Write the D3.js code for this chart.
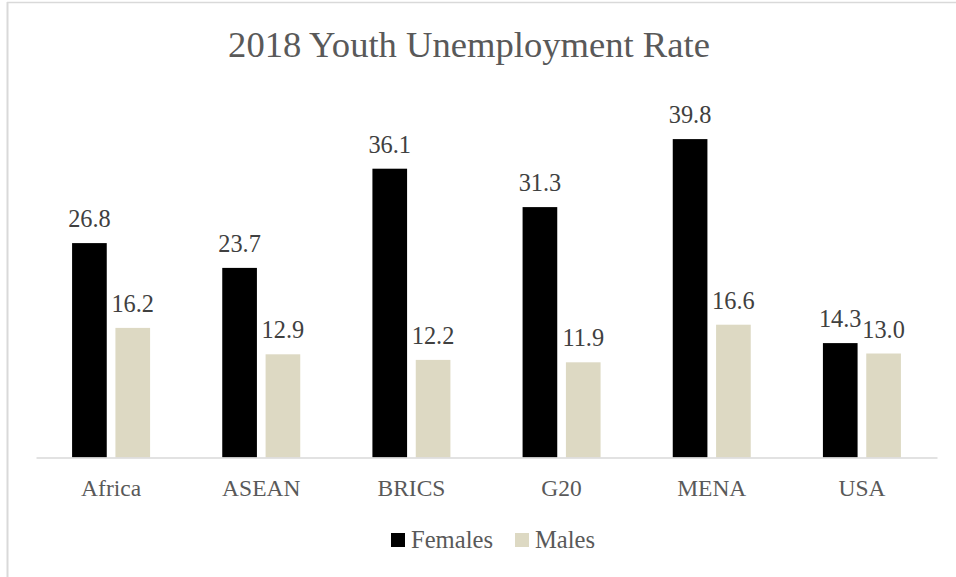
<!DOCTYPE html>
<html><head><meta charset="utf-8">
<script src="https://cdn.jsdelivr.net/npm/d3@7"></script>
<style>html,body{margin:0;padding:0;background:#fff;}</style>
</head><body>
<script>
const categories = ["Africa","ASEAN","BRICS","G20","MENA","USA"];
const females = [26.8,23.7,36.1,31.3,39.8,14.3];
const males = [16.2,12.9,12.2,11.9,16.6,13.0];
const seriesNames = ["Females","Males"];
const seriesColors = ["#000000","#DDD9C3"];
const titleText = "2018 Youth Unemployment Rate";

const W=956,H=577;
const font="Liberation Serif";
const svg=d3.select("body").append("svg").attr("width",W).attr("height",H);
svg.append("rect").attr("width",W).attr("height",H).attr("fill","#fff");
svg.append("line").attr("x1",7).attr("x2",W).attr("y1",2.5).attr("y2",2.5).attr("stroke","#D9D9D9").attr("stroke-width",1.5);
svg.append("line").attr("x1",7.5).attr("x2",7.5).attr("y1",2).attr("y2",H).attr("stroke","#D9D9D9").attr("stroke-width",2);

function fitSize(str,target){
  const t=svg.append("text").attr("font-family",font).attr("font-size",100).text(str);
  const w=t.node().getComputedTextLength(); t.remove();
  return 100*target/w;
}
const titleSize=fitSize(titleText,482);
const valSize=fitSize("26.8",42.6);
const catSize=fitSize("Africa",60);
const legSize=fitSize("Females",82);

const x=d3.scaleBand().domain(categories).range([36,937]);
const y=d3.scaleLinear().domain([0,45]).range([457.5,97.5]);
const inner=d3.scaleBand().domain(seriesNames).range([x.bandwidth()/2-39,x.bandwidth()/2+39]).paddingInner(0.2);

svg.append("text").attr("x",469).attr("y",57).attr("text-anchor","middle")
 .attr("font-family",font).attr("font-size",titleSize).attr("fill","#595959").text(titleText);

const data=categories.map((c,i)=>({c,vals:[females[i],males[i]]}));
const g=svg.selectAll("g.grp").data(data).enter().append("g").attr("transform",d=>`translate(${x(d.c)},0)`);
g.selectAll("rect").data(d=>d.vals.map((v,j)=>({v,s:seriesNames[j],col:seriesColors[j]}))).enter().append("rect")
 .attr("x",d=>inner(d.s)).attr("width",inner.bandwidth())
 .attr("y",d=>y(d.v)).attr("height",d=>y(0)-y(d.v)).attr("fill",d=>d.col);
g.selectAll("text").data(d=>d.vals.map((v,j)=>({v,s:seriesNames[j]}))).enter().append("text")
 .attr("x",d=>inner(d.s)+inner.bandwidth()/2).attr("y",d=>y(d.v)-16).attr("text-anchor","middle")
 .attr("font-family",font).attr("font-size",valSize).attr("fill","#404040").text(d=>d.v.toFixed(1));

const xAxis=svg.append("g").attr("transform",`translate(0,${y(0)})`).call(d3.axisBottom(x).tickSize(0).tickPadding(22));
xAxis.attr("font-family",font);
xAxis.select(".domain").attr("stroke","#D9D9D9").attr("stroke-width",1.5);
xAxis.selectAll("text").attr("font-family",font).attr("font-size",catSize).attr("fill","#595959");

const leg=svg.append("g");
const legX=[391,515];
seriesNames.forEach((s,i)=>{
  leg.append("rect").attr("x",legX[i]).attr("y",533).attr("width",14).attr("height",14).attr("fill",seriesColors[i]);
  leg.append("text").attr("x",legX[i]+20).attr("y",548).attr("font-family",font).attr("font-size",legSize).attr("fill","#595959").text(s);
});
</script>
</body></html>
